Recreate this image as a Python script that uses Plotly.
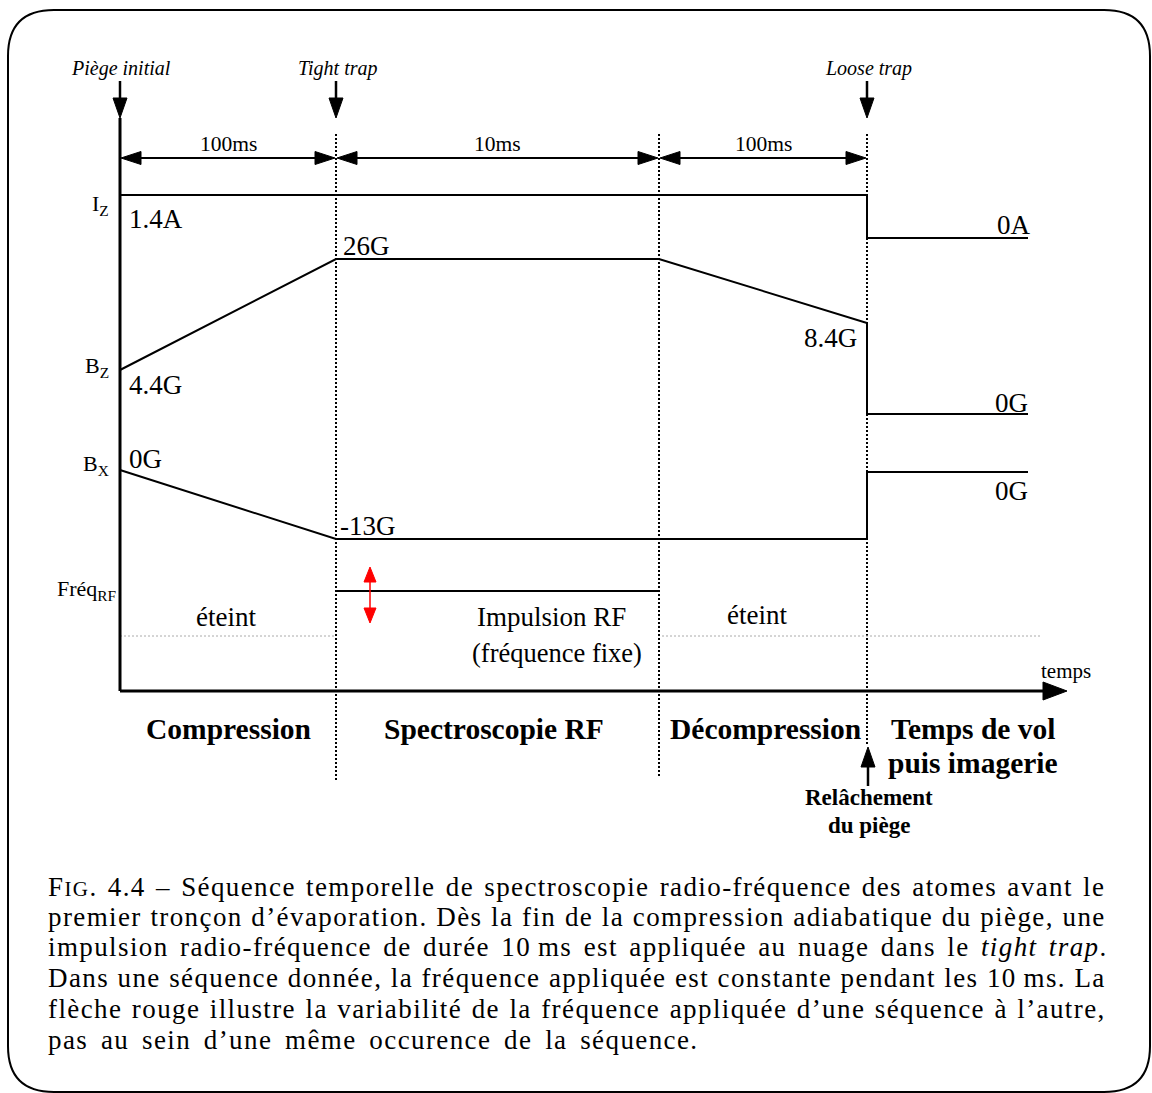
import plotly.graph_objects as go

W, H = 1152, 1093

# ---------------- data (schematic time positions / levels) ----------------
t_edges = [120, 336, 659, 867, 1028]          # phase boundaries on the time axis
phase_names = ["Compression", "Spectroscopie RF", "Décompression"]
phase_centers = [228, 494, 765]
last_phase = ["Temps de vol", "puis imagerie"]
phase_durations = ["100ms", "10ms", "100ms"]
trap_names = ["Piège initial", "Tight trap", "Loose trap"]
trap_times = [120, 336, 867]

signal_names = ["I<sub>Z</sub>", "B<sub>Z</sub>", "B<sub>X</sub>", "Fréq<sub>RF</sub>"]
signal_name_levels = [205, 367, 465, 590]

iz_t = [120, 867, 867, 1028]
iz_lvl = [195, 195, 238, 238]
bz_t = [120, 336, 659, 867, 867, 1028]
bz_lvl = [370, 259, 259, 323, 414, 414]
bx_t = [120, 336, 867, 867, 1028]
bx_lvl = [470, 539, 539, 472, 472]
rf_t = [336, 659]
rf_lvl = [591, 591]
rf_off_level = 636

value_labels = ["1.4A", "0A", "4.4G", "26G", "8.4G", "0G", "0G", "-13G", "0G"]
value_t = [127, 1033, 127, 341, 859, 1030, 127, 338, 1030]
value_lvl = [219, 225, 385, 246, 338, 403, 459, 526, 491]
value_side = ["left", "right", "left", "left", "right", "right", "left", "left", "right"]

caption_lines = [
    ". 4.4 – Séquence temporelle de spectroscopie radio-fréquence des atomes avant le",
    "premier tronçon d’évaporation. Dès la fin de la compression adiabatique du piège, une",
    "impulsion radio-fréquence de durée 10\u2009ms est appliquée au nuage dans le <i>tight trap</i>.",
    "Dans une séquence donnée, la fréquence appliquée est constante pendant les 10\u2009ms. La",
    "flèche rouge illustre la variabilité de la fréquence appliquée d’une séquence à l’autre,",
    "pas au sein d’une même occurence de la séquence.",
]
caption_word_spacing = [2.1, 0.5, 3.25, 0.3, 1.35, 4.6]

# ---------------- figure ----------------
FONT = "Liberation Serif"
CAPFONT = "Liberation Serif"
fig = go.Figure()
shapes = []
ann = []


def line(xs, ys, width=2, color="black", dash="solid"):
    fig.add_trace(go.Scatter(x=xs, y=ys, mode="lines", hoverinfo="skip",
                             line=dict(color=color, width=width, dash=dash),
                             showlegend=False))


def tri(tipx, tipy, direction, length, half, color="black"):
    if direction == "down":
        xs = [tipx, tipx - half, tipx + half, tipx]
        ys = [tipy, tipy - length, tipy - length, tipy]
    elif direction == "up":
        xs = [tipx, tipx - half, tipx + half, tipx]
        ys = [tipy, tipy + length, tipy + length, tipy]
    elif direction == "right":
        xs = [tipx, tipx - length, tipx - length, tipx]
        ys = [tipy, tipy - half, tipy + half, tipy]
    else:
        xs = [tipx, tipx + length, tipx + length, tipx]
        ys = [tipy, tipy - half, tipy + half, tipy]
    fig.add_trace(go.Scatter(x=xs, y=ys, mode="lines", fill="toself",
                             fillcolor=color, line=dict(color=color, width=1),
                             hoverinfo="skip", showlegend=False))


def text(x, y, s, size=24, xanchor="center", yanchor="middle", family=FONT, color="black"):
    ann.append(dict(x=x, y=y, xref="x", yref="y", text=s, showarrow=False,
                    xanchor=xanchor, yanchor=yanchor,
                    font=dict(family=family, size=size, color=color)))


# frame
shapes.append(dict(type="path", xref="x", yref="y",
                   path="M 8,56 Q 8,10 54,10 L 1104,10 Q 1150,10 1150,56 L 1150,1046 "
                        "Q 1150,1092 1104,1092 L 54,1092 Q 8,1092 8,1046 Z",
                   line=dict(color="black", width=2)))

# dotted phase separators
sep_bottom = [780, 778, 745]
for tx, yb in zip(t_edges[1:4], sep_bottom):
    line([tx, tx], [134, yb], width=2, dash="2px,2px")

# gray dotted "off" level of the RF
line([t_edges[0], t_edges[1]], [rf_off_level, rf_off_level], width=1, color="#aaaaaa", dash="2px,2px")
line([t_edges[2] + 3, 1040], [rf_off_level, rf_off_level], width=1, color="#aaaaaa", dash="2px,2px")

# axes
line([120, 120], [118, 691], width=3)
line([120, 1046], [691, 691], width=3)
tri(1067, 691, "right", 24, 9)
text(1066, 671, "temps", size=21)

# trap arrows at top
for name, tt in zip(trap_names, trap_times):
    line([tt, tt], [81, 100], width=2.5)
    tri(tt, 118, "down", 20, 7)
    text(tt + 1, 68, "<i>" + name + "</i>", size=20)

# duration double arrows
for i, d in enumerate(phase_durations):
    a, b = t_edges[i], t_edges[i + 1]
    line([a + 18, b - 18], [158, 158], width=2)
    tri(a + 1, 158, "left", 20, 6.5)
    tri(b - 1, 158, "right", 20, 6.5)
    text((a + b) / 2, 144, d, size=21.5)

# signals
line(iz_t, iz_lvl, width=2)
line(bz_t, bz_lvl, width=2)
line(bx_t, bx_lvl, width=2)
line(rf_t, rf_lvl, width=2)

# red arrow (frequency varies from run to run)
line([370, 370], [578, 612], width=1.5, color="red")
tri(370, 567, "up", 15, 6, color="red")
tri(370, 623, "down", 15, 6, color="red")

# signal names
for s, lv in zip(signal_names, signal_name_levels):
    if "RF" in s:
        text(118, lv, s, size=22, xanchor="right")
    else:
        text(111, lv, s, size=22, xanchor="right")

# value labels
for s, tx, lv, side in zip(value_labels, value_t, value_lvl, value_side):
    text(tx, lv, s, size=27, xanchor=side)

# RF texts
text(226, 617, "éteint", size=27)
text(757, 615, "éteint", size=27)
text(551, 617, "Impulsion RF", size=27)
text(557, 653, "(fréquence fixe)", size=26.5)

# phase names
for p, cx in zip(phase_names, phase_centers):
    text(cx, 729, "<b>" + p + "</b>", size=29.5)
text(973, 729, "<b>" + last_phase[0] + "</b>", size=29.5)
text(973, 763, "<b>" + last_phase[1] + "</b>", size=29.5)

# trap release arrow
line([868, 868], [765, 786], width=2.5)
tri(868, 747, "up", 20, 7)
text(869, 797, "<b>Relâchement</b>", size=23)
text(869, 825, "<b>du piège</b>", size=23)

# caption
cap_y = [887, 917, 947, 978, 1009, 1040]
for i, (s, yy) in enumerate(zip(caption_lines, cap_y)):
    ws = caption_word_spacing[i]
    st = "letter-spacing:1.4px;word-spacing:%.2fpx" % ws
    if i == 0:
        body = ("<span style='%s'>F</span><span style='font-size:21px;%s'>IG</span>"
                "<span style='%s'>%s</span>") % (st, st, st, s)
    else:
        body = "<span style='%s'>%s</span>" % (st, s)
    text(46, yy, body, size=27, xanchor="left", family=CAPFONT)

fig.update_layout(
    width=W, height=H, margin=dict(l=0, r=0, t=0, b=0),
    paper_bgcolor="white", plot_bgcolor="white",
    xaxis=dict(range=[0, W], visible=False, fixedrange=True),
    yaxis=dict(range=[H, 0], visible=False, fixedrange=True),
    shapes=shapes, annotations=ann, showlegend=False,
)
fig.write_html("out.html", config={"displayModeBar": False, "staticPlot": True},
               post_script="document.body.style.margin='0';document.body.style.overflow='hidden';")
